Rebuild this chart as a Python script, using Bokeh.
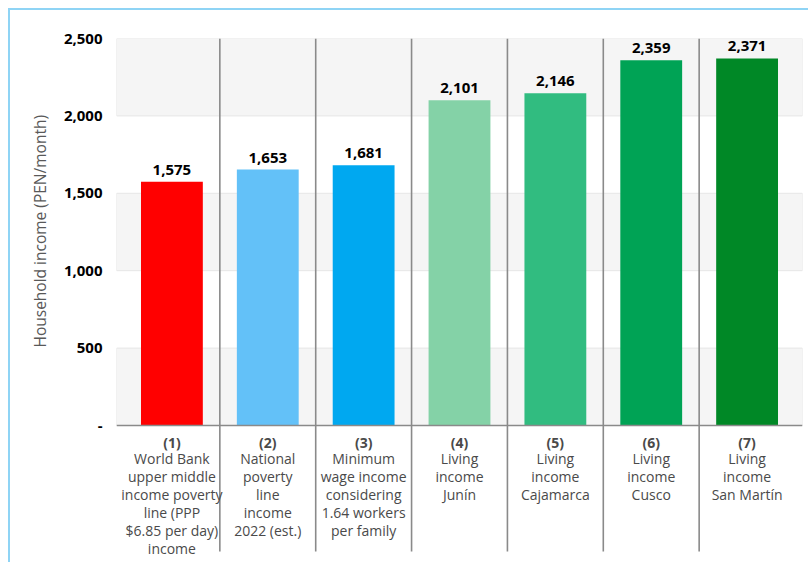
import math
from bokeh.plotting import figure
from bokeh.models import Range1d, FixedTicker, Title, ColumnDataSource
from bokeh.core.properties import value
from bokeh.embed import file_html
from bokeh.resources import INLINE

# ---- data ----
cat_nums = ["(1)", "(2)", "(3)", "(4)", "(5)", "(6)", "(7)"]
cat_desc = [
    "World Bank\nupper middle\nincome poverty\nline (PPP\n$6.85 per day)\nincome",
    "National\npoverty\nline\nincome\n2022 (est.)",
    "Minimum\nwage income\nconsidering\n1.64 workers\nper family",
    "Living\nincome\nJunín",
    "Living\nincome\nCajamarca",
    "Living\nincome\nCusco",
    "Living\nincome\nSan Martín",
]
incomes = [1575, 1653, 1681, 2101, 2146, 2359, 2371]
bar_colors = ["#ff0000", "#63c1f8", "#00a8f0", "#84d2a7", "#31bc80", "#00a355", "#008826"]
y_ticks = [0, 500, 1000, 1500, 2000, 2500]
y_tick_labels = ["-", "500", "1,000", "1,500", "2,000", "2,500"]
band_bottoms = [0, 1000, 2000]
band_tops = [500, 1500, 2500]
y_title = "Household income (PEN/month)"

FONT = "Open Sans"
n = len(incomes)
xs = [i + 0.5 for i in range(n)]
Y0, Y1 = -885, 2500
SEP_BOTTOM = -814
X0, X1 = -0.078, n + 0.078

p = figure(width=800, height=554, output_backend="svg", toolbar_location=None,
           x_range=Range1d(X0, X1), y_range=Range1d(Y0, Y1),
           min_border_left=106, min_border_right=8, min_border_top=28, min_border_bottom=2)
p.styles = {"border-top": "2px solid #8fd4f5", "border-left": "2px solid #8fd4f5",
            "margin-top": "8px", "margin-left": "8px"}
p.outline_line_color = None
p.background_fill_color = "white"
p.xaxis.visible = False
p.xgrid.visible = False
p.ygrid.visible = False

ya = p.yaxis[0]
ya.ticker = FixedTicker(ticks=y_ticks)
ya.major_label_overrides = {t: l for t, l in zip(y_ticks, y_tick_labels)}
ya.axis_line_color = None
ya.major_tick_line_color = None
ya.minor_tick_line_color = None
ya.major_label_standoff = 8
ya.major_label_text_font = FONT
ya.major_label_text_font_style = "bold"
ya.major_label_text_font_size = "15px"
ya.major_label_text_color = "#000000"

# background bands
p.quad(left=X0, right=X1, bottom=band_bottoms, top=band_tops,
       fill_color="#f5f5f5", line_color="#e6e6e6", line_width=1)

# separators
seps = list(range(1, n))
p.segment(x0=seps, x1=seps, y0=SEP_BOTTOM, y1=Y1, line_color="#8a8a8a", line_width=1.6)

# bars
src = ColumnDataSource(dict(x=xs, top=incomes, color=bar_colors,
                            lab=[f"{v:,}" for v in incomes], num=cat_nums, desc=cat_desc))
p.vbar(x="x", top="top", bottom=0, width=0.645, fill_color="color", line_color=None, source=src)

# baseline axis line
p.segment(x0=X0, x1=X1, y0=0, y1=0, line_color="#8a8a8a", line_width=1.6)

# value labels
p.text(x="x", y="top", text="lab", source=src, text_align="center", text_baseline="alphabetic",
       y_offset=-12, text_font=value(FONT), text_font_style="bold", text_font_size="15px",
       text_color="#000000")

# category labels
p.text(x="x", y=-108, text="num", source=src, text_align="center", text_baseline="middle",
       text_font=value(FONT), text_font_style="bold", text_font_size="14px", text_color="#4a4a4a")
p.text(x="x", y=-151, text="desc", source=src, text_align="center", text_baseline="top",
       text_font=value(FONT), text_font_size="14px", text_color="#4a4a4a", text_line_height=0.945)

# y-axis title
p.add_layout(Title(text=y_title, align="left", offset=215, standoff=20,
                   text_font=FONT, text_font_size="15.5px", text_font_style="normal",
                   text_color="#595959"), "left")

open("out.html", "w").write(file_html(p, INLINE))
